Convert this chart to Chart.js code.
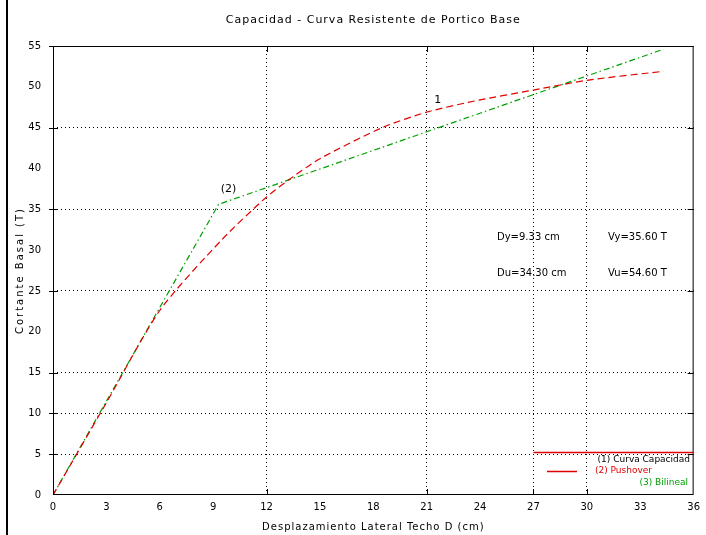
<!DOCTYPE html>
<html>
<head>
<meta charset="utf-8">
<script src="https://cdn.jsdelivr.net/npm/chart.js@4.4.1/dist/chart.umd.min.js"></script>
<style>
  html, body { margin: 0; padding: 0; background: #fff; }
  #wrap { width: 706px; height: 535px; }
</style>
</head>
<body>
<div id="wrap"><canvas id="myChart" width="706" height="535"></canvas></div>
<script>
// curva pushover (rojo)
var pushX = [0, 3, 6, 9.5, 12, 13.5, 15, 18.5, 21, 24, 27, 30, 34.3];
var pushY = [0, 11.3, 22.6, 31.3, 36.5, 39.0, 41.2, 45.0, 46.9, 48.4, 49.6, 50.8, 51.9];

// curva bilineal idealizada (verde)
var biliX = [0, 9.3, 34.3];
var biliY = [0, 35.6, 54.6];

var xTicks = [0, 3, 6, 9, 12, 15, 18, 21, 24, 27, 30, 33, 36];
var yTicks = [0, 5, 10, 15, 20, 25, 30, 35, 40, 45, 50, 55];
var xGrid = [12, 21, 27, 30];
var yGrid = [5, 10, 15, 25, 35, 45];

var FONT = "DejaVu Sans";

function toPoints(xs, ys) {
    var pts = [];
    for (var i = 0; i < xs.length; i++) pts.push({x: xs[i], y: ys[i]});
    return pts;
}

var decor = {
    id: 'decor',
    afterDraw: function(chart) {
        var c = chart.ctx;
        var a = chart.chartArea;
        var xs = chart.scales.x, ys = chart.scales.y;
        c.save();

        // marco
        c.strokeStyle = '#000';
        c.lineWidth = 1;
        c.setLineDash([]);
        c.strokeRect(a.left + 0.5, a.top + 0.5, a.right - a.left - 1, a.bottom - a.top - 1);

        // marcas de grilla
        xGrid.forEach(function(v) {
            var px = Math.round(xs.getPixelForValue(v)) + 0.5;
            c.beginPath();
            c.moveTo(px, a.bottom); c.lineTo(px, a.bottom - 6);
            c.moveTo(px, a.top); c.lineTo(px, a.top + 6);
            c.stroke();
        });
        yGrid.concat([55]).forEach(function(v) {
            var py = Math.round(ys.getPixelForValue(v)) + 0.5;
            c.beginPath();
            c.moveTo(a.left - 4, py); c.lineTo(a.left + 5, py);
            c.moveTo(a.right, py); c.lineTo(a.right - 6, py);
            c.stroke();
        });

        // linea izquierda de la imagen
        c.fillStyle = '#000';
        c.fillRect(6, 0, 2, 535);

        // titulos
        c.fillStyle = '#000';
        c.textAlign = 'center';
        c.textBaseline = 'middle';
        c.font = '11px ' + FONT;
        c.letterSpacing = '1px';
        c.fillText('Capacidad - Curva Resistente de Portico Base', (a.left + a.right) / 2, 20);
        c.font = '10px ' + FONT;
        c.fillText('Desplazamiento Lateral Techo D (cm)', (a.left + a.right) / 2, 527);
        c.save();
        c.letterSpacing = '2px';
        c.translate(20, (a.top + a.bottom) / 2);
        c.rotate(-Math.PI / 2);
        c.fillText('Cortante Basal (T)', 0, 0);
        c.restore();
        c.letterSpacing = '0px';

        // etiquetas de puntos
        c.font = '11px ' + FONT;
        c.fillText('(2)', xs.getPixelForValue(9.3) + 10, ys.getPixelForValue(35.6) - 15);
        c.fillText('1', xs.getPixelForValue(21) + 11, ys.getPixelForValue(46.9) - 12);

        // textos de resultados
        c.font = '10px ' + FONT;
        c.textAlign = 'left';
        c.fillText('Dy=9.33 cm', 497, 237);
        c.fillText('Vy=35.60 T', 608, 237);
        c.fillText('Du=34.30 cm', 497, 273);
        c.fillText('Vu=54.60 T', 608, 273);

        // leyenda
        var lx = xs.getPixelForValue(27);
        c.strokeStyle = '#e00000';
        c.lineWidth = 1.5;
        c.beginPath();
        c.moveTo(lx, 452.5); c.lineTo(a.right, 452.5);
        c.stroke();
        c.font = '9px ' + FONT;
        c.textAlign = 'right';
        c.fillStyle = '#000';
        c.fillText('(1) Curva Capacidad', 690, 460);
        c.fillStyle = '#e00000';
        c.fillText('(2) Pushover', 652, 471);
        c.beginPath();
        c.moveTo(547, 471.5); c.lineTo(577, 471.5);
        c.stroke();
        c.fillStyle = '#00a000';
        c.fillText('(3) Bilineal', 688, 483);

        c.restore();
    }
};

document.addEventListener('DOMContentLoaded', function() {
    var ctx = document.getElementById('myChart').getContext('2d');
    var chart = new Chart(ctx, {
        type: 'scatter',
        data: {
            datasets: [{
                label: 'Pushover',
                data: toPoints(pushX, pushY),
                showLine: true,
                borderColor: '#e00000',
                borderWidth: 1.2,
                borderDash: [7, 4],
                pointRadius: 0,
                tension: 0.25
            }, {
                label: 'Bilineal',
                data: toPoints(biliX, biliY),
                showLine: true,
                borderColor: '#00a000',
                borderWidth: 1.2,
                borderDash: [6, 3, 1.5, 3],
                pointRadius: 0
            }]
        },
        options: {
            responsive: false,
            animation: false,
            layout: { padding: { left: 0, right: 9, top: 46, bottom: 0 } },
            plugins: {
                legend: { display: false },
                tooltip: { enabled: false }
            },
            scales: {
                x: {
                    type: 'linear',
                    min: 0, max: 36,
                    afterBuildTicks: function(s) { s.ticks = xTicks.map(function(v) { return {value: v}; }); },
                    afterFit: function(s) { s.height = 40; },
                    ticks: { color: '#000', font: { family: FONT, size: 10 }, padding: 6, maxRotation: 0, autoSkip: false },
                    grid: {
                        drawTicks: false,
                        lineWidth: 1,
                        color: function(c) { return c.tick && xGrid.indexOf(c.tick.value) >= 0 ? '#000' : 'rgba(0,0,0,0)'; }
                    },
                    border: { display: false, dash: [1, 3] }
                },
                y: {
                    type: 'linear',
                    min: 0, max: 55,
                    afterBuildTicks: function(s) { s.ticks = yTicks.map(function(v) { return {value: v}; }); },
                    afterFit: function(s) { s.width = 53; },
                    ticks: { color: '#000', font: { family: FONT, size: 10 }, padding: 12, autoSkip: false },
                    grid: {
                        drawTicks: false,
                        lineWidth: 1,
                        color: function(c) { return c.tick && yGrid.indexOf(c.tick.value) >= 0 ? '#000' : 'rgba(0,0,0,0)'; }
                    },
                    border: { display: false, dash: [1, 3] }
                }
            }
        },
        plugins: [decor]
    });
}, false);
</script>
</body>
</html>
